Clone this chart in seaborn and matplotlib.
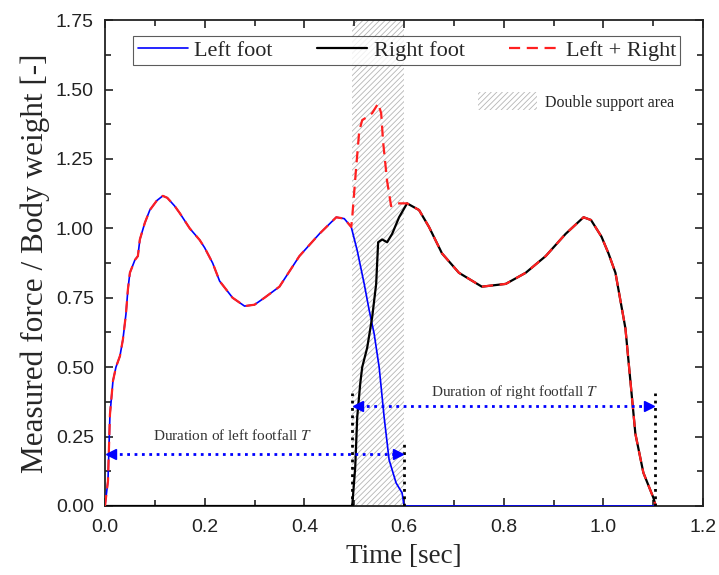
import numpy as np
import pandas as pd
import matplotlib
matplotlib.use("Agg")
import matplotlib.pyplot as plt
import matplotlib.patches as mpatches
import seaborn as sns

# data
left_t = [0, 0.006, 0.01, 0.016, 0.022, 0.03, 0.036, 0.042, 0.046, 0.05, 0.06, 0.066, 0.07,
          0.08, 0.09, 0.104, 0.116, 0.125, 0.14, 0.15, 0.17, 0.19, 0.2, 0.216, 0.23, 0.256,
          0.28, 0.3, 0.32, 0.35, 0.39, 0.43, 0.464, 0.48, 0.494, 0.506, 0.52, 0.53, 0.54,
          0.55, 0.56, 0.57, 0.584, 0.596, 0.6, 1.105]
left_f = [0, 0.09, 0.33, 0.45, 0.50, 0.54, 0.60, 0.69, 0.78, 0.84, 0.886, 0.90, 0.96,
          1.02, 1.066, 1.10, 1.117, 1.11, 1.08, 1.055, 1.0, 0.958, 0.93, 0.875, 0.81, 0.75,
          0.72, 0.725, 0.75, 0.79, 0.90, 0.98, 1.04, 1.035, 1.005, 0.92, 0.80, 0.705, 0.62,
          0.50, 0.32, 0.166, 0.083, 0.047, 0, 0]

right_t = [0, 0.496, 0.502, 0.506, 0.512, 0.516, 0.526, 0.536, 0.544, 0.548, 0.556, 0.566,
           0.576, 0.59, 0.606, 0.63, 0.65, 0.676, 0.71, 0.756, 0.804, 0.844, 0.884, 0.924,
           0.96, 0.975, 0.996, 1.01, 1.024, 1.044, 1.054, 1.064, 1.08, 1.1, 1.105]
right_f = [0, 0, 0.14, 0.32, 0.44, 0.50, 0.57, 0.68, 0.80, 0.95, 0.96, 0.95,
           0.98, 1.04, 1.09, 1.066, 1.005, 0.91, 0.84, 0.79, 0.80, 0.84, 0.90, 0.98,
           1.04, 1.03, 0.97, 0.91, 0.84, 0.64, 0.45, 0.26, 0.12, 0.03, 0]

# summed force inside the double support window
ds_t = [0.496, 0.503, 0.51, 0.516, 0.525, 0.536, 0.548, 0.554, 0.558, 0.566, 0.574, 0.584, 0.596]
ds_f = [1.04, 1.2, 1.35, 1.39, 1.40, 1.415, 1.45, 1.415, 1.31, 1.17, 1.08, 1.09, 1.09]

ds_start, ds_end = 0.496, 0.6

df_left = pd.DataFrame({"t": left_t, "f": left_f})
df_right = pd.DataFrame({"t": right_t, "f": right_f})
df_sum = pd.concat([
    df_left[df_left.t < ds_start],
    pd.DataFrame({"t": ds_t, "f": ds_f}),
    df_right[df_right.t > ds_end],
])

sns.set_style("ticks")
plt.rcParams["font.family"] = ["Liberation Serif", "DejaVu Serif"]
plt.rcParams["mathtext.fontset"] = "stix"
plt.rcParams["hatch.linewidth"] = 0.6

fig, ax = plt.subplots(figsize=(7.19, 5.75), dpi=100)
fig.subplots_adjust(left=0.146, right=0.978, bottom=0.12, top=0.965)

ax.axvspan(ds_start, ds_end, facecolor="white", edgecolor="#b5b5b5", hatch="//////", lw=0, zorder=0)

sns.lineplot(data=df_left, x="t", y="f", color="blue", lw=1.2, label="Left foot", ax=ax, zorder=3)
sns.lineplot(data=df_right, x="t", y="f", color="black", lw=1.6, label="Right foot", ax=ax, zorder=3)
sns.lineplot(data=df_sum, x="t", y="f", color="#ff2020", lw=1.6, ls=(0, (5, 3)),
             label="Left + Right", ax=ax, zorder=4)

# footfall duration markers
for xv, top in [(ds_start, 0.407), (ds_end, 0.23), (1.104, 0.407)]:
    ax.plot([xv, xv], [0, top], color="black", ls=":", lw=2, zorder=5)

arrows = [(0.004, 0.596, 0.187), (0.5, 1.1, 0.36)]
for x0, x1, yv in arrows:
    ax.plot([x0 + 0.01, x1 - 0.01], [yv, yv], color="blue", ls=":", lw=2, zorder=5)
    ax.plot([x0 + 0.008], [yv], marker="<", color="blue", ms=7, zorder=6)
    ax.plot([x1 - 0.008], [yv], marker=">", color="blue", ms=7, zorder=6)

ax.text(0.256, 0.255, "Duration of left footfall $\\mathit{T}$", ha="center", va="center",
        fontsize=11, color="#333333")
ax.text(0.822, 0.41, "Duration of right footfall $\\mathit{T}$", ha="center", va="center",
        fontsize=11, color="#333333")

ax.set_xlim(0, 1.2)
ax.set_ylim(0, 1.75)
ax.set_xticks(np.arange(0, 1.21, 0.2))
ax.set_yticks(np.arange(0, 1.76, 0.25))
ax.set_xticks(np.arange(0.1, 1.2, 0.2), minor=True)
ax.set_yticks(np.arange(0.125, 1.75, 0.25), minor=True)
ax.set_xticklabels([f"{v:.1f}" for v in np.arange(0, 1.21, 0.2)], family="Liberation Sans", fontsize=14)
ax.set_yticklabels([f"{v:.2f}" for v in np.arange(0, 1.76, 0.25)], family="Liberation Sans", fontsize=14)
ax.tick_params(which="major", direction="in", top=True, right=True, length=6, width=1.2, colors="#222222")
ax.tick_params(which="minor", direction="in", top=True, right=True, length=4, width=1.2, colors="#222222")
ax.tick_params(axis="x", which="major", pad=9)
ax.tick_params(axis="y", which="major", pad=8)
for s in ax.spines.values():
    s.set_linewidth(1.3)
    s.set_color("#222222")

ax.set_xlabel("Time [sec]", fontsize=19.5, labelpad=6)
ax.set_ylabel("Measured force / Body weight [-]", fontsize=22.5, labelpad=4)

leg = ax.legend(loc="upper left", bbox_to_anchor=(0.047, 0.968, 0.915, 0.0), mode="expand", ncol=3,
                fontsize=16, frameon=True, fancybox=False, edgecolor="#333333", handlelength=2.25,
                borderpad=0.2, borderaxespad=0, handletextpad=0.3, columnspacing=1.0)
leg.get_frame().set_linewidth(0.8)
ax.add_artist(leg)

patch = mpatches.Patch(facecolor="white", edgecolor="#b5b5b5", hatch="//////", lw=0,
                       label="Double support area")
ax.legend(handles=[patch], loc="center left", bbox_to_anchor=(0.6, 0.833), frameon=False,
          fontsize=11.5, handlelength=3.7, handleheight=1.4, handletextpad=0.5)

fig.savefig("out.png", dpi=100)
